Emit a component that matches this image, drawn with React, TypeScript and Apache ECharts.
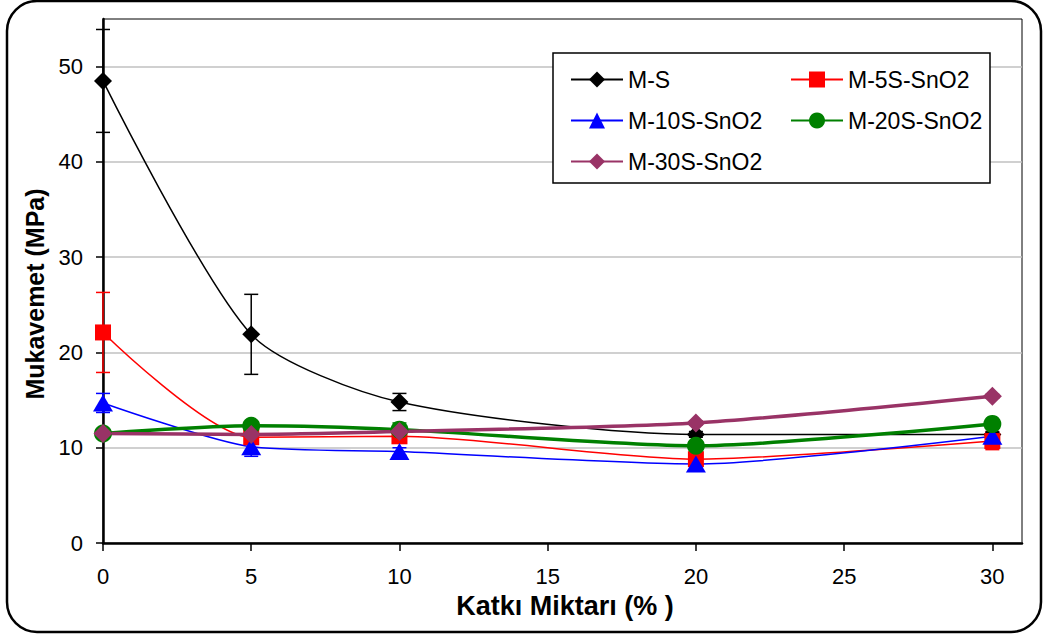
import React, { useEffect, useRef } from "react";
import * as echarts from "echarts";

const xValues = [0, 5, 10, 20, 30];
const seriesNames = ["M-S", "M-5S-SnO2", "M-10S-SnO2", "M-20S-SnO2", "M-30S-SnO2"];
const msValues = [48.5, 21.9, 14.8, 11.4, 11.4];
const m5Values = [22.1, 11.1, 11.2, 8.8, 10.7];
const m10Values = [14.7, 10.1, 9.6, 8.3, 11.2];
const m20Values = [11.5, 12.3, 11.9, 10.2, 12.5];
const m30Values = [11.5, 11.4, 11.7, 12.6, 15.4];
const msErr = [5.4, 4.2, 0.9, 0.3, 0.3];
const m5Err = [4.2, 0.4, 0.4, 0.5, 0.9];
const m10Err = [1.0, 1.0, 0.4, 0.3, 0.3];
const m20Err = [0.3, 0.4, 0.7, 0.3, 0.3];
const m30Err = [0.2, 0.2, 0.2, 0.2, 0.2];
const xTicks = [0, 5, 10, 15, 20, 25, 30];
const yTicks = [0, 10, 20, 30, 40, 50];
const xTitle = "Katkı Miktarı (% )";
const yTitle = "Mukavemet (MPa)";

const FONT = "'Liberation Sans', Arial, sans-serif";

const styles = [
  { color: "#000000", symbol: "diamond", size: [18, 18], width: 1.5 },
  { color: "#FF0000", symbol: "rect", size: [16, 16], width: 1.5 },
  { color: "#0000FF", symbol: "triangle", size: [20, 17], width: 1.5 },
  { color: "#008000", symbol: "circle", size: [18, 18], width: 3.5 },
  { color: "#993366", symbol: "diamond", size: [19, 19], width: 3.5 },
];

export default function App() {
  const ref = useRef<HTMLDivElement>(null);
  useEffect(() => {
    if (!ref.current) return;
    const chart = echarts.init(ref.current, undefined, { renderer: "svg" });
    const values = [msValues, m5Values, m10Values, m20Values, m30Values];
    const errs = [msErr, m5Err, m10Err, m20Err, m30Err];

    const lineSeries = seriesNames.map((name, i) => ({
      type: "line",
      name,
      data: xValues.map((x, j) => [x, values[i][j]]),
      smooth: 0.25,
      symbol: styles[i].symbol,
      symbolSize: styles[i].size,
      showAllSymbol: true,
      lineStyle: { color: styles[i].color, width: styles[i].width },
      itemStyle: { color: styles[i].color, borderWidth: 0 },
      z: 3,
    }));

    const errSeries = seriesNames.map((name, i) => ({
      type: "custom",
      name: "err-" + name,
      silent: true,
      z: 2,
      encode: { x: 0, y: 1 },
      data: xValues.map((x, j) => [x, values[i][j], errs[i][j]]),
      renderItem: (params: any, api: any) => {
        const x = api.value(0);
        const y = api.value(1);
        const e = api.value(2);
        const top = api.coord([x, y + e]);
        const bot = api.coord([x, y - e]);
        const hw = 7;
        const st = { stroke: styles[i].color, lineWidth: 1.5 };
        return {
          type: "group",
          children: [
            { type: "line", shape: { x1: top[0], y1: top[1], x2: bot[0], y2: bot[1] }, style: st },
            { type: "line", shape: { x1: top[0] - hw, y1: top[1], x2: top[0] + hw, y2: top[1] }, style: st },
            { type: "line", shape: { x1: bot[0] - hw, y1: bot[1], x2: bot[0] + hw, y2: bot[1] }, style: st },
          ],
        };
      },
    }));

    const legendCommon = {
      orient: "vertical",
      itemWidth: 52,
      itemHeight: 20,
      itemGap: 18,
      textStyle: { fontSize: 23, color: "#000", fontFamily: FONT },
      selectedMode: false,
    };

    chart.setOption({
      animation: false,
      backgroundColor: "#ffffff",
      grid: {
        left: 103,
        right: 22,
        top: 19,
        bottom: 97,
        show: true,
        borderColor: "#000",
        borderWidth: 1,
        backgroundColor: "transparent",
        outerBoundsMode: "none",
      },
      xAxis: {
        type: "value",
        min: 0,
        max: 31,
        interval: 5,
        axisLine: { show: true, onZero: false, lineStyle: { color: "#000", width: 2.5 } },
        axisTick: { show: true, length: 8, customValues: xTicks, lineStyle: { color: "#000", width: 1.5 } },
        axisLabel: { customValues: xTicks, fontSize: 22, color: "#000", fontFamily: FONT, margin: 22 },
        splitLine: { show: false },
      },
      yAxis: {
        type: "value",
        min: 0,
        max: 55,
        interval: 10,
        axisLine: { show: true, onZero: false, lineStyle: { color: "#000", width: 2.5 } },
        axisTick: { show: true, length: 7, customValues: yTicks, lineStyle: { color: "#000", width: 1.5 } },
        axisLabel: { customValues: yTicks, fontSize: 22, color: "#000", fontFamily: FONT, margin: 20 },
        splitLine: { show: true, lineStyle: { color: "#c0c0c0", width: 1.5 } },
      },
      legend: [
        { ...legendCommon, data: [seriesNames[0], seriesNames[2], seriesNames[4]], left: 565, top: 63 },
        { ...legendCommon, data: [seriesNames[1], seriesNames[3]], left: 785, top: 63 },
      ],
      graphic: [
        {
          type: "rect",
          z: 0,
          shape: { x: 7, y: 1, width: 1034, height: 631, r: 30 },
          style: { fill: "none", stroke: "#000", lineWidth: 2.5 },
          silent: true,
        },
        {
          type: "rect",
          z: 3,
          shape: { x: 553, y: 53, width: 437, height: 130 },
          style: { fill: "#fff", stroke: "#000", lineWidth: 1.5 },
          silent: true,
        },
        {
          type: "text",
          z: 5,
          x: 565,
          y: 606,
          style: {
            text: xTitle,
            font: `bold 27px ${FONT}`,
            fill: "#000",
            align: "center",
            verticalAlign: "middle",
          },
        },
        {
          type: "text",
          z: 5,
          x: 35,
          y: 294,
          rotation: Math.PI / 2,
          style: {
            text: yTitle,
            font: `bold 25px ${FONT}`,
            fill: "#000",
            align: "center",
            verticalAlign: "middle",
          },
        },
      ],
      series: [...errSeries, ...lineSeries],
    });
    return () => chart.dispose();
  }, []);
  return (
    <div
      ref={ref}
      style={{ position: "absolute", left: 0, top: 0, width: 1044, height: 640, background: "#fff" }}
    />
  );
}
